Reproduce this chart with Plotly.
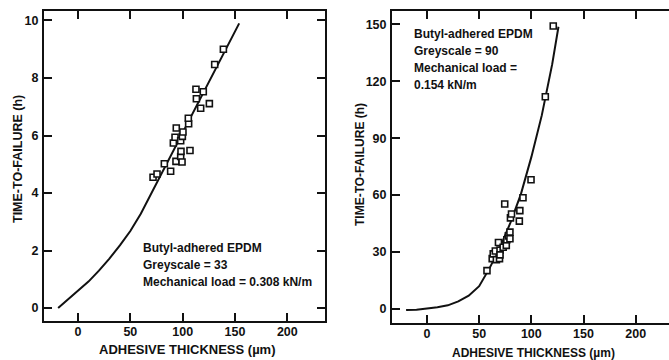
import plotly.graph_objects as go

# ---- Left panel data (Greyscale = 33) ----
left_pts_x = [71.7, 75.5, 82.5, 88.5, 93.6, 98.1, 99.4, 98.4, 107.0, 91.1, 92.7, 93.9,
              98.1, 99.7, 100.3, 105.7, 105.4, 117.2, 125.5, 113.1, 112.7, 119.7, 130.6, 138.9]
left_pts_y = [4.55, 4.66, 5.02, 4.76, 5.10, 5.27, 5.08, 5.45, 5.48, 5.74, 5.94, 6.26,
              5.82, 5.97, 6.12, 6.41, 6.60, 6.95, 7.11, 7.28, 7.61, 7.52, 8.47, 9.00]
left_curve_x = [-19, -10, 0, 10, 20, 30, 40, 50, 60, 70, 80, 90, 100, 110, 120, 130, 140, 150, 154]
left_curve_y = [0.0, 0.28, 0.58, 0.92, 1.30, 1.72, 2.18, 2.68, 3.28, 3.98, 4.70, 5.40, 6.10,
                6.80, 7.50, 8.20, 8.90, 9.60, 9.90]

# ---- Right panel data (Greyscale = 90) ----
right_pts_x = [57.5, 62.5, 63.5, 65.5, 66.5, 68.5, 69.5, 70.0, 70.0, 73.0, 76.0, 76.5,
               78.0, 79.5, 79.5, 80.0, 81.0, 74.5, 88.5, 89.0, 92.0, 99.7, 113.4, 121.0]
right_pts_y = [20.2, 26.5, 29.0, 30.5, 26.0, 35.0, 26.5, 31.0, 28.5, 32.5, 33.5, 36.5,
               38.5, 40.5, 37.0, 48.0, 50.0, 55.3, 46.3, 51.8, 58.6, 68.1, 111.8, 149.1]
right_curve_x = [-20, -10, 0, 10, 20, 30, 40, 50, 60, 70, 80, 90, 100, 110, 120, 126]
right_curve_y = [-0.6, -0.4, 0.3, 0.9, 1.9, 4.0, 7.0, 12.0, 21.5, 32.5, 45.5, 60.5, 80.0,
                 102.0, 129.0, 148.7]

x_ticks = [0, 50, 100, 150, 200]
left_y_ticks = [0, 2, 4, 6, 8, 10]
right_y_ticks = [0, 30, 60, 90, 120, 150]

x_title = "ADHESIVE THICKNESS (µm)"
y_title = "TIME-TO-FAILURE (h)"
left_note = ["Butyl-adhered EPDM", "Greyscale = 33", "Mechanical load = 0.308 kN/m"]
right_note = ["Butyl-adhered EPDM", "Greyscale = 90", "Mechanical load =", "0.154 kN/m"]

W, H = 669, 360
FONT = "Liberation Sans"
INK = "#111111"

line_style = dict(color=INK, width=2)
marker_style = dict(symbol="square", size=6, color="white", line=dict(color=INK, width=1.6))

fig = go.Figure()
fig.add_trace(go.Scatter(x=left_curve_x, y=left_curve_y, mode="lines", line=line_style,
                         xaxis="x", yaxis="y", showlegend=False, hoverinfo="skip"))
fig.add_trace(go.Scatter(x=left_pts_x, y=left_pts_y, mode="markers", marker=marker_style,
                         xaxis="x", yaxis="y", showlegend=False))
fig.add_trace(go.Scatter(x=right_curve_x, y=right_curve_y, mode="lines", line=line_style,
                         xaxis="x2", yaxis="y2", showlegend=False, hoverinfo="skip"))
fig.add_trace(go.Scatter(x=right_pts_x, y=right_pts_y, mode="markers", marker=marker_style,
                         xaxis="x2", yaxis="y2", showlegend=False))

def tf(size):
    return dict(family=FONT, size=size, color=INK, weight="bold")

def xax(domain, rng, anchor, fs):
    return dict(domain=domain, range=rng, anchor=anchor, tickvals=x_ticks,
                ticks="inside", ticklen=8, tickwidth=2, tickcolor=INK,
                showline=True, linewidth=2, linecolor=INK, mirror="ticks",
                showgrid=False, zeroline=False, tickfont=tf(fs),
                ticklabelstandoff=-2)

def yax(domain, rng, anchor, ticks, mirror, fs):
    return dict(domain=domain, range=rng, anchor=anchor, tickvals=ticks,
                ticks="inside", ticklen=8, tickwidth=2, tickcolor=INK,
                showline=True, linewidth=2, linecolor=INK, mirror=mirror,
                showgrid=False, zeroline=False, tickfont=tf(fs),
                ticklabelstandoff=1)

fig.update_layout(
    width=W, height=H,
    margin=dict(l=0, r=0, t=0, b=0),
    paper_bgcolor="white", plot_bgcolor="white",
    xaxis=xax([44 / W, 325 / W], [-32.5, 236], "y", 12.5),
    yaxis=yax([1 - 321 / H, 1 - 11 / H], [-0.45, 10.33], "x", left_y_ticks, "ticks", 12.5),
    xaxis2=xax([392 / W, 1.0], [-33.5, 231.9], "y2", 12.5),
    yaxis2=yax([1 - 323 / H, 1 - 11 / H], [-7.4, 157.0], "x2", right_y_ticks, False, 12.5),
)

# axis titles
fig.add_annotation(text=x_title, xref="paper", yref="paper", x=187 / W, y=1 - 349 / H,
                   xanchor="center", yanchor="middle", showarrow=False, font=tf(13))
fig.add_annotation(text=x_title, xref="paper", yref="paper", x=533 / W, y=1 - 353 / H,
                   xanchor="center", yanchor="middle", showarrow=False, font=tf(12))
fig.add_annotation(text=y_title, xref="paper", yref="paper", x=18 / W, y=1 - 159 / H,
                   xanchor="center", yanchor="middle", textangle=-90, showarrow=False, font=tf(12.5))
fig.add_annotation(text=y_title, xref="paper", yref="paper", x=360 / W, y=1 - 165 / H,
                   xanchor="center", yanchor="middle", textangle=-90, showarrow=False, font=tf(12))

note_font = tf(12)
for i, t in enumerate(left_note):
    fig.add_annotation(text=t, xref="paper", yref="paper", x=141 / W, y=1 - (248 + 17 * i) / H,
                       xanchor="left", yanchor="middle", showarrow=False, font=note_font)
for i, t in enumerate(right_note):
    fig.add_annotation(text=t, xref="paper", yref="paper", x=412 / W, y=1 - (34 + 17 * i) / H,
                       xanchor="left", yanchor="middle", showarrow=False, font=note_font)

fig.write_html("out.html",
               config={"displayModeBar": False},
               post_script="document.body.style.margin='0';document.body.style.padding='0';"
                           "document.documentElement.style.margin='0';")
